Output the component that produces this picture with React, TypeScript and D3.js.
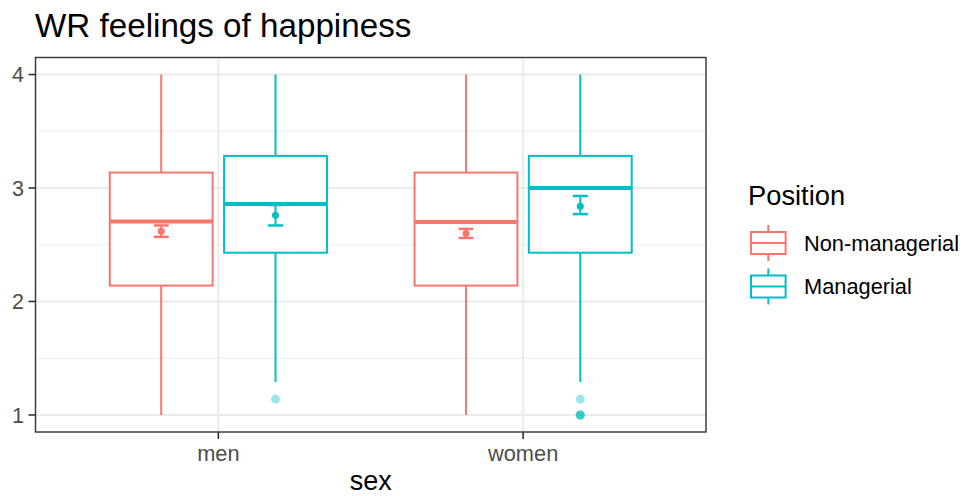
import React from "react";
import * as d3 from "d3";

const categories = ["men", "women"];
const groups = ["Non-managerial", "Managerial"];
const colors = ["#F8766D", "#00BFC4"];

// box stats per category, per group: [lowerWhisker, q1, median, q3, upperWhisker]
const boxMen = [
  [1, 2.14, 2.705, 3.136, 4],
  [1.29, 2.43, 2.86, 3.283, 4],
];
const boxWomen = [
  [1, 2.14, 2.7, 3.136, 4],
  [1.29, 2.43, 3.0, 3.283, 4],
];
// mean, lower, upper
const meanMen = [
  [2.62, 2.57, 2.67],
  [2.76, 2.67, 2.85],
];
const meanWomen = [
  [2.6, 2.56, 2.64],
  [2.84, 2.77, 2.93],
];
const outliersMen = [[], [1.14]];
const outliersWomen = [[], [1.14, 1, 1, 1]];

const yTicks = [1, 2, 3, 4];
const yMinor = [1.5, 2.5, 3.5];

const FONT = "'Liberation Sans', Arial, sans-serif";

export default function App() {
  const W = 962, H = 496;
  const left = 35.5, right = 706, top = 57.5, bottom = 432;
  const x = d3.scaleLinear().domain([0.4, 2.6]).range([left, right]);
  const y = d3.scaleLinear().domain([0.85, 4.15]).range([bottom, top]);
  const unit = x(1) - x(0);
  const dodge = 0.75 / 4;
  const boxW = (0.75 / 2) * 0.9 * unit;
  const boxes = [boxMen, boxWomen];
  const means = [meanMen, meanWomen];
  const outs = [outliersMen, outliersWomen];

  return (
    <svg width={W} height={H} style={{ position: "absolute", left: 0, top: 0, background: "#fff" }} fontFamily={FONT}>
      <rect x={0} y={0} width={W} height={H} fill="#fff" />
      <text x={35} y={37} fontSize={33.2} fill="#000">WR feelings of happiness</text>
      {/* grid */}
      {yMinor.map((v) => (
        <line key={"mn" + v} x1={left} x2={right} y1={y(v)} y2={y(v)} stroke="#EBEBEB" strokeWidth={1} />
      ))}
      {yTicks.map((v) => (
        <line key={"mj" + v} x1={left} x2={right} y1={y(v)} y2={y(v)} stroke="#EBEBEB" strokeWidth={2} />
      ))}
      {categories.map((c, i) => (
        <line key={"vx" + c} x1={x(i + 1)} x2={x(i + 1)} y1={top} y2={bottom} stroke="#EBEBEB" strokeWidth={2} />
      ))}
      {/* boxes */}
      {categories.map((c, ci) =>
        groups.map((g, gi) => {
          const cx = x(ci + 1 + (gi === 0 ? -dodge : dodge));
          const [lw, q1, med, q3, uw] = boxes[ci][gi];
          const col = colors[gi];
          const [m, ml, mu] = means[ci][gi];
          return (
            <g key={c + g}>
              <line x1={cx} x2={cx} y1={y(uw)} y2={y(q3)} stroke={col} strokeWidth={2} />
              <line x1={cx} x2={cx} y1={y(q1)} y2={y(lw)} stroke={col} strokeWidth={2} />
              <rect x={cx - boxW / 2} y={y(q3)} width={boxW} height={y(q1) - y(q3)} fill="#fff" stroke={col} strokeWidth={2} />
              <line x1={cx - boxW / 2} x2={cx + boxW / 2} y1={y(med)} y2={y(med)} stroke={col} strokeWidth={4} />
              {outs[ci][gi].map((o, k) => (
                <circle key={k} cx={cx} cy={y(o)} r={4.5} fill={col} fillOpacity={0.4} />
              ))}
              <line x1={cx} x2={cx} y1={y(mu)} y2={y(ml)} stroke={col} strokeWidth={2} />
              <line x1={cx - 7.5} x2={cx + 7.5} y1={y(mu)} y2={y(mu)} stroke={col} strokeWidth={2.5} />
              <line x1={cx - 7.5} x2={cx + 7.5} y1={y(ml)} y2={y(ml)} stroke={col} strokeWidth={2.5} />
              <circle cx={cx} cy={y(m)} r={3.5} fill={col} />
            </g>
          );
        })
      )}
      {/* panel border */}
      <rect x={left} y={top} width={right - left} height={bottom - top} fill="none" stroke="#333333" strokeWidth={1.4} />
      {/* y axis */}
      {yTicks.map((v) => (
        <g key={"yt" + v}>
          <line x1={left - 7} x2={left} y1={y(v)} y2={y(v)} stroke="#333333" strokeWidth={1.6} />
          <text x={24} y={y(v)} dy="0.35em" textAnchor="end" fontSize={21.5} fill="#4D4D4D">{v}</text>
        </g>
      ))}
      {/* x axis */}
      {categories.map((c, i) => (
        <g key={"xt" + c}>
          <line x1={x(i + 1)} x2={x(i + 1)} y1={bottom} y2={bottom + 7} stroke="#333333" strokeWidth={1.6} />
          <text x={x(i + 1)} y={461} textAnchor="middle" fontSize={21.8} fill="#4D4D4D">{c}</text>
        </g>
      ))}
      <text x={(left + right) / 2} y={490} textAnchor="middle" fontSize={27} fill="#000">sex</text>
      {/* legend */}
      <text x={748} y={205} fontSize={27.3} fill="#000">Position</text>
      {groups.map((g, gi) => {
        const cy = 243 + gi * 43.5;
        const col = colors[gi];
        return (
          <g key={"lg" + g}>
            <line x1={768.3} x2={768.3} y1={cy - 18} y2={cy + 18} stroke={col} strokeWidth={2} />
            <rect x={751} y={cy - 11} width={34.6} height={22} fill="#fff" stroke={col} strokeWidth={2} />
            <line x1={751} x2={785.6} y1={cy} y2={cy} stroke={col} strokeWidth={2} />
            <text x={804} y={cy} dy="0.36em" fontSize={21.8} fill="#000">{g}</text>
          </g>
        );
      })}
    </svg>
  );
}
